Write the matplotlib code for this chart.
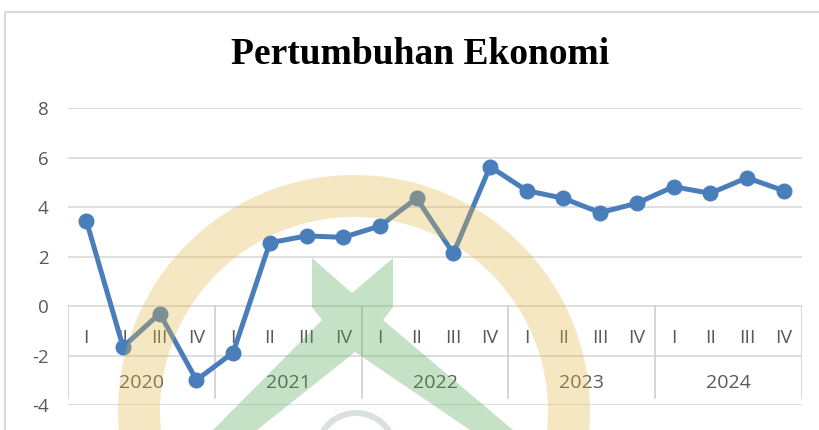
import matplotlib.pyplot as plt
from matplotlib.patches import Wedge, Polygon, Rectangle

# data
years = ["2020", "2021", "2022", "2023", "2024"]
quarters = ["I", "II", "III", "IV"]
growth = [3.45, -1.65, -0.30, -2.99,
          -1.88, 2.56, 2.84, 2.78,
          3.24, 4.36, 2.13, 5.64,
          4.67, 4.36, 3.78, 4.16,
          4.83, 4.56, 5.19, 4.67]
yticks = [-4, -2, 0, 2, 4, 6, 8]

W, H = 819, 430
plt.rcParams["axes.unicode_minus"] = False
fig = plt.figure(figsize=(W / 100, H / 100), dpi=100)

# chart area border (cropped at right/bottom)
bg = fig.add_axes([0, 0, 1, 1], zorder=-1)
bg.set_xlim(0, W)
bg.set_ylim(H, 0)
bg.axis("off")
bg.add_patch(Rectangle((5, 12), W, H, fill=False, ec="#D9D9D9", lw=1.5))

# plot area in pixels
x0, x1, ytop, ybot = 68, 802, 108.3, 405
ax = fig.add_axes([x0 / W, 1 - ybot / H, (x1 - x0) / W, (ybot - ytop) / H])
n = len(growth)
ax.set_xlim(0, n)
ax.set_ylim(-4, 8)
for s in ax.spines.values():
    s.set_visible(False)
ax.set_xticks([])
ax.set_yticks(yticks)
ax.tick_params(axis="y", length=0, pad=14, labelsize=13.5, labelcolor="#595959")
for lab in ax.get_yticklabels():
    lab.set_fontfamily("Open Sans")
for t in yticks:
    ax.axhline(t, color="#D9D9D9", lw=1.2, zorder=1)

# category table below the zero line
upp = 12 / (ybot - ytop)  # data units per pixel
y_sep_bot = -(398 - 306) * upp
for k in range(len(years) + 1):
    ax.plot([k * 4, k * 4], [0, y_sep_bot], color="#D0D0D0", lw=1.2, zorder=1)
for i in range(n):
    ax.text(i + 0.5, -(338 - 306) * upp, quarters[i % 4], ha="center", va="center",
            fontsize=14, color="#595959", family="Open Sans")
for k, yr in enumerate(years):
    ax.text(k * 4 + 2, -(383 - 306) * upp, yr, ha="center", va="center",
            fontsize=14, color="#595959", family="Open Sans")

xs = [i + 0.5 for i in range(n)]
ax.plot(xs, growth, color="#4A7EBB", lw=3.6, marker="o", ms=10.5, zorder=3)

fig.text(420 / W, 1 - 55 / H, "Pertumbuhan Ekonomi", ha="center", va="center",
         fontsize=27, fontweight="bold", family="Liberation Serif", color="black")

# faint watermark logo on top
wm = fig.add_axes([0, 0, 1, 1], zorder=10)
wm.set_xlim(0, W)
wm.set_ylim(H, 0)
wm.axis("off")
wm.add_patch(Wedge((354, 411), 236, 0, 360, width=42, fc="#E2B745", ec="none", alpha=0.33))
xshape = [(312, 258), (352, 293), (393, 258), (393, 307), (383, 320), (513, 430),
          (470, 430), (355, 352), (257, 430), (213, 430), (322, 320), (312, 307)]
wm.add_patch(Polygon(xshape, closed=True, fc="#54A954", ec="none", alpha=0.33))
wm.add_patch(Wedge((356, 452), 42, 180, 360, width=6, fc="#7FA08A", ec="none", alpha=0.3))

fig.savefig("out.png", dpi=100)
